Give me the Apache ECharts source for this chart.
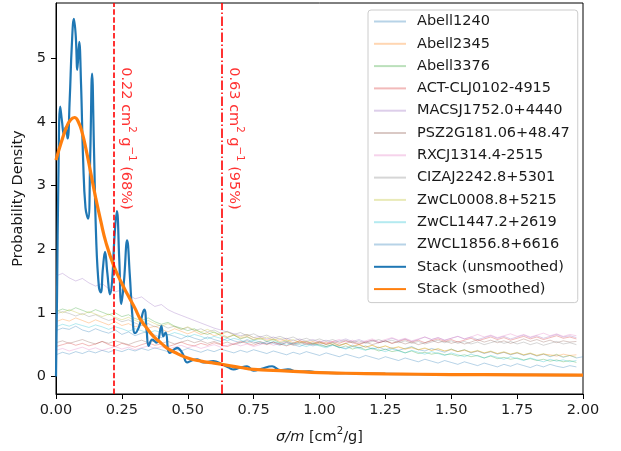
<!DOCTYPE html>
<html>
<head>
<meta charset="utf-8">
<script src="https://cdn.jsdelivr.net/npm/echarts@6/dist/echarts.min.js"></script>
<style>
  html, body { margin: 0; padding: 0; background: #fff; }
  #chart { width: 621px; height: 451px; }
</style>
</head>
<body>
<div id="chart"></div>
<script>
// Per-cluster posterior densities of sigma/m, sampled every 0.025 cm^2/g from 0 to 2
const gridStep = 0.025;

const abell1240 = [0.72,0.76,0.74,0.79,0.73,0.70,0.75,0.71,0.68,0.73,0.66,0.70,0.64,0.68,0.71,0.65,0.61,0.66,0.63,0.59,0.64,
  0.60,0.57,0.62,0.58,0.55,0.60,0.56,0.53,0.58,0.54,0.51,0.55,0.52,0.49,0.54,0.50,0.47,0.52,0.48,
  0.51,0.47,0.50,0.46,0.44,0.49,0.45,0.48,0.43,0.46,0.42,0.45,0.41,0.44,0.47,0.42,0.40,0.44,0.41,0.38,
  0.43,0.39,0.42,0.37,0.40,0.36,0.39,0.35,0.38,0.34,0.37,0.33,0.36,0.32,0.35,0.31,0.34,0.30,0.33,0.29,0.31];
const abell2345 = [0.86,0.90,0.87,0.92,0.88,0.84,0.89,0.85,0.81,0.86,0.80,0.83,0.78,0.81,0.76,0.79,0.74,0.70,0.75,0.71,0.67,
  0.71,0.66,0.69,0.64,0.67,0.62,0.65,0.60,0.63,0.58,0.61,0.57,0.59,0.55,0.58,0.53,0.56,0.52,0.55,
  0.51,0.54,0.50,0.48,0.52,0.47,0.50,0.46,0.49,0.45,0.48,0.44,0.46,0.43,0.45,0.42,0.44,0.41,0.43,0.40,
  0.42,0.39,0.41,0.38,0.40,0.37,0.39,0.36,0.38,0.35,0.37,0.34,0.36,0.33,0.35,0.34,0.32,0.35,0.33,0.34];
const abell3376 = [1.02,1.06,1.03,1.08,1.04,1.00,1.05,1.01,0.97,1.00,0.94,0.97,0.91,0.88,0.92,0.86,0.82,0.85,0.79,0.76,0.72,
  0.75,0.69,0.66,0.70,0.64,0.61,0.65,0.59,0.62,0.57,0.60,0.55,0.58,0.53,0.56,0.51,0.54,0.50,0.52,
  0.49,0.47,0.50,0.45,0.48,0.43,0.46,0.42,0.44,0.40,0.43,0.39,0.41,0.37,0.40,0.36,0.38,0.35,0.37,0.34,
  0.35,0.32,0.34,0.31,0.33,0.29,0.32,0.28,0.30,0.27,0.29,0.26,0.28,0.25,0.27,0.24,0.26,0.23,0.25,0.22];
const actClj0102 = [0.47,0.50,0.53,0.49,0.52,0.48,0.51,0.55,0.50,0.47,0.52,0.49,0.46,0.50,0.53,0.49,0.51,0.47,0.50,0.54,0.50,
  0.48,0.52,0.49,0.53,0.50,0.47,0.51,0.55,0.52,0.49,0.53,0.50,0.54,0.51,0.48,0.52,0.56,0.53,0.50,
  0.54,0.51,0.55,0.52,0.56,0.53,0.50,0.54,0.57,0.53,0.56,0.52,0.55,0.58,0.54,0.57,0.53,0.56,0.59,0.55,
  0.58,0.54,0.57,0.60,0.56,0.59,0.62,0.58,0.61,0.57,0.60,0.63,0.59,0.62,0.58,0.61,0.64,0.60,0.62,0.59];
const macsj1752 = [1.58,1.62,1.55,1.50,1.54,1.47,1.42,1.46,1.38,1.33,1.36,1.29,1.22,1.25,1.17,1.10,1.13,1.05,1.00,0.96,0.92,
  0.88,0.84,0.80,0.76,0.73,0.70,0.67,0.64,0.66,0.61,0.63,0.59,0.62,0.58,0.60,0.56,0.59,0.55,0.58,
  0.54,0.57,0.53,0.56,0.59,0.55,0.58,0.54,0.57,0.53,0.56,0.60,0.56,0.59,0.55,0.58,0.62,0.58,0.61,0.57,
  0.60,0.63,0.59,0.62,0.58,0.61,0.64,0.60,0.63,0.59,0.62,0.65,0.61,0.64,0.60,0.63,0.66,0.62,0.64,0.61];
const psz2g181 = [0.53,0.56,0.52,0.55,0.58,0.54,0.51,0.55,0.52,0.56,0.53,0.50,0.54,0.57,0.53,0.56,0.52,0.55,0.51,0.54,0.57,
  0.53,0.56,0.52,0.55,0.51,0.54,0.50,0.53,0.56,0.52,0.55,0.51,0.54,0.50,0.53,0.49,0.52,0.55,0.51,
  0.54,0.50,0.53,0.49,0.52,0.55,0.51,0.54,0.50,0.53,0.56,0.52,0.55,0.51,0.54,0.50,0.53,0.57,0.53,0.56,
  0.52,0.55,0.51,0.54,0.58,0.54,0.57,0.53,0.56,0.52,0.55,0.59,0.55,0.58,0.54,0.57,0.53,0.56,0.54,0.55];
const rxcj1314 = [0.41,0.44,0.40,0.43,0.46,0.42,0.45,0.41,0.44,0.47,0.43,0.46,0.42,0.45,0.48,0.44,0.47,0.43,0.46,0.49,0.45,
  0.48,0.44,0.47,0.50,0.46,0.49,0.52,0.48,0.51,0.47,0.50,0.53,0.49,0.52,0.55,0.51,0.54,0.50,0.53,
  0.56,0.52,0.55,0.58,0.54,0.57,0.53,0.56,0.59,0.55,0.58,0.61,0.57,0.60,0.56,0.59,0.62,0.58,0.61,0.57,
  0.60,0.63,0.59,0.62,0.66,0.62,0.65,0.61,0.64,0.67,0.63,0.66,0.62,0.65,0.68,0.64,0.67,0.63,0.66,0.64];
const cizaj2242 = [0.98,1.02,0.99,0.95,0.99,0.94,0.97,0.92,0.88,0.91,0.86,0.89,0.84,0.80,0.83,0.78,0.81,0.76,0.79,0.74,0.77,
  0.72,0.75,0.70,0.73,0.68,0.71,0.66,0.69,0.64,0.67,0.62,0.65,0.60,0.63,0.59,0.62,0.57,0.60,0.56,
  0.59,0.55,0.58,0.54,0.57,0.53,0.56,0.52,0.55,0.58,0.54,0.57,0.53,0.56,0.52,0.55,0.51,0.54,0.57,0.53,
  0.56,0.52,0.55,0.51,0.54,0.50,0.53,0.56,0.52,0.55,0.51,0.54,0.50,0.53,0.49,0.52,0.55,0.51,0.53,0.50];
const zwcl0008 = [1.04,1.00,1.05,1.01,0.97,1.02,0.98,0.94,0.98,0.93,0.89,0.93,0.88,0.84,0.88,0.83,0.79,0.83,0.78,0.74,0.78,
  0.73,0.70,0.74,0.69,0.66,0.70,0.65,0.62,0.66,0.61,0.58,0.62,0.57,0.60,0.55,0.58,0.53,0.56,0.52,
  0.55,0.50,0.53,0.49,0.52,0.47,0.50,0.46,0.49,0.45,0.48,0.44,0.47,0.43,0.46,0.42,0.45,0.41,0.44,0.40,
  0.43,0.39,0.42,0.38,0.41,0.37,0.40,0.36,0.39,0.35,0.38,0.34,0.37,0.33,0.36,0.32,0.35,0.31,0.33,0.30];
const zwcl1447 = [0.78,0.82,0.79,0.83,0.80,0.77,0.81,0.78,0.74,0.78,0.75,0.71,0.75,0.72,0.68,0.72,0.69,0.65,0.69,0.66,0.62,
  0.66,0.63,0.59,0.63,0.60,0.56,0.60,0.57,0.53,0.57,0.54,0.51,0.55,0.52,0.49,0.53,0.50,0.47,0.51,
  0.48,0.45,0.49,0.46,0.43,0.47,0.44,0.41,0.45,0.42,0.39,0.43,0.40,0.37,0.41,0.38,0.35,0.39,0.36,0.33,
  0.37,0.34,0.31,0.35,0.32,0.29,0.33,0.30,0.27,0.31,0.28,0.25,0.29,0.26,0.23,0.27,0.24,0.26,0.23,0.25];
const zwcl1856 = [0.34,0.38,0.35,0.39,0.36,0.40,0.37,0.41,0.38,0.42,0.39,0.43,0.40,0.44,0.41,0.45,0.42,0.39,0.43,0.40,0.44,
  0.41,0.38,0.42,0.39,0.43,0.40,0.37,0.41,0.38,0.42,0.39,0.36,0.40,0.37,0.34,0.38,0.35,0.39,0.36,
  0.33,0.37,0.34,0.31,0.35,0.32,0.29,0.33,0.30,0.27,0.31,0.28,0.25,0.29,0.26,0.23,0.27,0.24,0.21,0.25,
  0.22,0.19,0.23,0.20,0.17,0.21,0.18,0.15,0.19,0.16,0.20,0.17,0.14,0.18,0.15,0.19,0.16,0.14,0.17,0.15];

const clusterNames = ['Abell1240', 'Abell2345', 'Abell3376', 'ACT-CLJ0102-4915', 'MACSJ1752.0+4440',
  'PSZ2G181.06+48.47', 'RXCJ1314.4-2515', 'CIZAJ2242.8+5301', 'ZwCL0008.8+5215', 'ZwCL1447.2+2619', 'ZWCL1856.8+6616'];
const clusterValues = [abell1240, abell2345, abell3376, actClj0102, macsj1752,
  psz2g181, rxcj1314, cizaj2242, zwcl0008, zwcl1447, zwcl1856];

// Stacked posterior, unsmoothed
const unsmoothedX = [0, 0.004, 0.009, 0.016, 0.023, 0.030, 0.037, 0.044, 0.052, 0.060, 0.068, 0.075, 0.081, 0.088, 0.095,
  0.103, 0.112, 0.122, 0.130, 0.137, 0.144, 0.153, 0.163, 0.170, 0.178, 0.186, 0.195, 0.205, 0.213, 0.222, 0.231, 0.240,
  0.248, 0.258, 0.270, 0.280, 0.290, 0.300, 0.315, 0.335, 0.344, 0.352, 0.365, 0.382, 0.400, 0.407, 0.416, 0.432, 0.460,
  0.479, 0.498, 0.515, 0.536, 0.560, 0.597, 0.630, 0.655, 0.674, 0.700, 0.725, 0.750, 0.780, 0.820, 0.850, 0.880, 0.920,
  0.960, 1.00, 1.10, 1.25, 1.50, 1.75, 2.00];
const unsmoothedY = [0, 1.3, 3.1, 4.24, 4.0, 3.8, 3.92, 3.74, 4.35, 5.2, 5.62, 5.35, 4.82, 5.26, 4.6,
  3.4, 2.65, 2.48, 3.5, 4.76, 3.6, 2.1, 1.4, 1.32, 1.7, 1.96, 1.62, 1.29, 1.5, 2.2, 2.6, 1.85,
  1.14, 1.5, 2.14, 1.6, 0.95, 0.68, 0.78, 1.05, 0.72, 0.48, 0.58, 0.53, 0.79, 0.63, 0.69, 0.37, 0.45,
  0.37, 0.22, 0.25, 0.27, 0.22, 0.24, 0.19, 0.14, 0.11, 0.14, 0.16, 0.09, 0.12, 0.16, 0.10, 0.11, 0.07,
  0.08, 0.06, 0.05, 0.04, 0.03, 0.025, 0.02];

// Stacked posterior, smoothed
const smoothedX = [0, 0.02, 0.04, 0.055, 0.07, 0.085, 0.10, 0.115, 0.13, 0.15, 0.17, 0.19, 0.22, 0.25, 0.27, 0.30, 0.32,
  0.35, 0.37, 0.40, 0.42, 0.45, 0.50, 0.55, 0.60, 0.63, 0.70, 0.75, 0.80, 0.90, 1.00, 1.10, 1.25, 1.50, 1.75, 2.00];
const smoothedY = [3.40, 3.68, 3.92, 4.03, 4.07, 4.00, 3.82, 3.55, 3.24, 2.82, 2.44, 2.10, 1.73, 1.46, 1.30, 1.07, 0.90,
  0.73, 0.63, 0.52, 0.45, 0.38, 0.29, 0.24, 0.21, 0.19, 0.14, 0.11, 0.10, 0.08, 0.06, 0.05, 0.04, 0.03, 0.025, 0.02];

// Credible limits on sigma/m
const limitValues = [0.22, 0.63];
const limitLevels = ['68%', '95%'];

const yTicks = [0, 1, 2, 3, 4, 5];

const tab10 = ['#1f77b4', '#ff7f0e', '#2ca02c', '#d62728', '#9467bd', '#8c564b', '#e377c2', '#7f7f7f', '#bcbd22', '#17becf'];
const FONT = 'DejaVu Sans';
const FS = 14.5;
const ANNOT_TOP = 4.86;

const zip = (xs, ys) => xs.map((x, i) => [x, ys[i]]);

const series = clusterValues.map((vals, k) => ({
  name: clusterNames[k],
  type: 'line',
  data: vals.map((v, i) => [i * gridStep, v]),
  symbol: 'none',
  color: tab10[k % 10],
  lineStyle: { width: 1, opacity: 0.32 },
  z: 2
}));

series.push({
  name: 'Stack (unsmoothed)',
  type: 'line',
  data: zip(unsmoothedX, unsmoothedY),
  symbol: 'none',
  smooth: 0.45,
  color: '#1f77b4',
  lineStyle: { width: 2.2 },
  z: 3
});
series.push({
  name: 'Stack (smoothed)',
  type: 'line',
  data: zip(smoothedX, smoothedY),
  symbol: 'none',
  smooth: 0.5,
  color: '#ff7f0e',
  lineStyle: { width: 3.2 },
  z: 4
});

// Vertical limit lines
series.push({
  name: 'limits',
  type: 'line',
  data: [],
  silent: true,
  z: 5,
  markLine: {
    silent: true,
    symbol: 'none',
    animation: false,
    label: { show: false },
    data: [
      { xAxis: limitValues[0], lineStyle: { color: '#ff0000', width: 1.6, type: [5.5, 2.4] } },
      { xAxis: limitValues[1], lineStyle: { color: '#ff0000', width: 1.6, type: [9.6, 2.4, 1.6, 2.4] } }
    ]
  }
});

// Rotated annotation beside each limit line
series.push({
  name: 'limit labels',
  type: 'scatter',
  symbolSize: 0,
  silent: true,
  z: 6,
  data: limitValues.map((v) => [v, ANNOT_TOP]),
  label: {
    show: true,
    position: 'right',
    distance: 1,
    rotate: -90,
    align: 'left',
    verticalAlign: 'bottom',
    color: '#ff0000',
    fontFamily: FONT,
    fontSize: FS,
    formatter: (p) => p.value[0].toFixed(2) + ' cm{sup|2} g{sup|\u22121} (' + limitLevels[p.dataIndex] + ')',
    rich: {
      sup: { fontSize: 10.2, color: '#ff0000', fontFamily: FONT, padding: [0, 0, 12, 0] }
    }
  }
});

const chart = echarts.init(document.getElementById('chart'), null, { renderer: 'canvas' });
chart.setOption({
  animation: false,
  backgroundColor: '#ffffff',
  textStyle: { fontFamily: FONT },
  grid: { left: 56, right: 38, top: 3, bottom: 57, show: true, borderColor: '#000', borderWidth: 1, backgroundColor: 'transparent' },
  legend: {
    orient: 'vertical',
    left: 368,
    top: 10,
    padding: [4, 8, 6, 5],
    itemWidth: 32,
    itemHeight: 15,
    itemGap: 7.3,
    align: 'left',
    backgroundColor: 'rgba(255,255,255,0.8)',
    borderColor: '#cccccc',
    borderWidth: 1,
    borderRadius: 3,
    itemStyle: { opacity: 0 },
    data: clusterNames.concat(['Stack (unsmoothed)', 'Stack (smoothed)']),
    textStyle: { fontFamily: FONT, fontSize: FS, color: '#1a1a1a', lineHeight: 15, padding: [0, 0, 0, 6] }
  },
  xAxis: {
    type: 'value',
    min: 0,
    max: 2,
    interval: 0.25,
    splitLine: { show: false },
    axisLine: { show: true, onZero: false, lineStyle: { color: '#000', width: 1 } },
    axisTick: { show: true, length: 5, lineStyle: { color: '#000', width: 1 } },
    axisLabel: { margin: 9, color: '#1a1a1a', fontFamily: FONT, fontSize: FS, formatter: (v) => v.toFixed(2) },
    name: '{i|σ/m} [cm{sup|2}/g]',
    nameLocation: 'middle',
    nameGap: 32,
    nameTextStyle: {
      color: '#1a1a1a', fontFamily: FONT, fontSize: FS,
      rich: {
        i: { fontStyle: 'italic', fontFamily: FONT, fontSize: FS, color: '#1a1a1a' },
        sup: { fontSize: 10.2, fontFamily: FONT, color: '#1a1a1a', padding: [0, 0, 12, 0] }
      }
    }
  },
  yAxis: {
    type: 'value',
    min: -0.276,
    max: 5.87,
    splitLine: { show: false },
    axisLine: { show: true, onZero: false, lineStyle: { color: '#000', width: 1 } },
    axisTick: { show: true, length: 5, lineStyle: { color: '#000', width: 1 }, customValues: yTicks },
    axisLabel: { margin: 10, color: '#1a1a1a', fontFamily: FONT, fontSize: FS, customValues: yTicks, formatter: (v) => String(v) },
    name: 'Probability Density',
    nameLocation: 'middle',
    nameGap: 28,
    nameTextStyle: { color: '#1a1a1a', fontFamily: FONT, fontSize: FS }
  },
  series: series
});
</script>
</body>
</html>
